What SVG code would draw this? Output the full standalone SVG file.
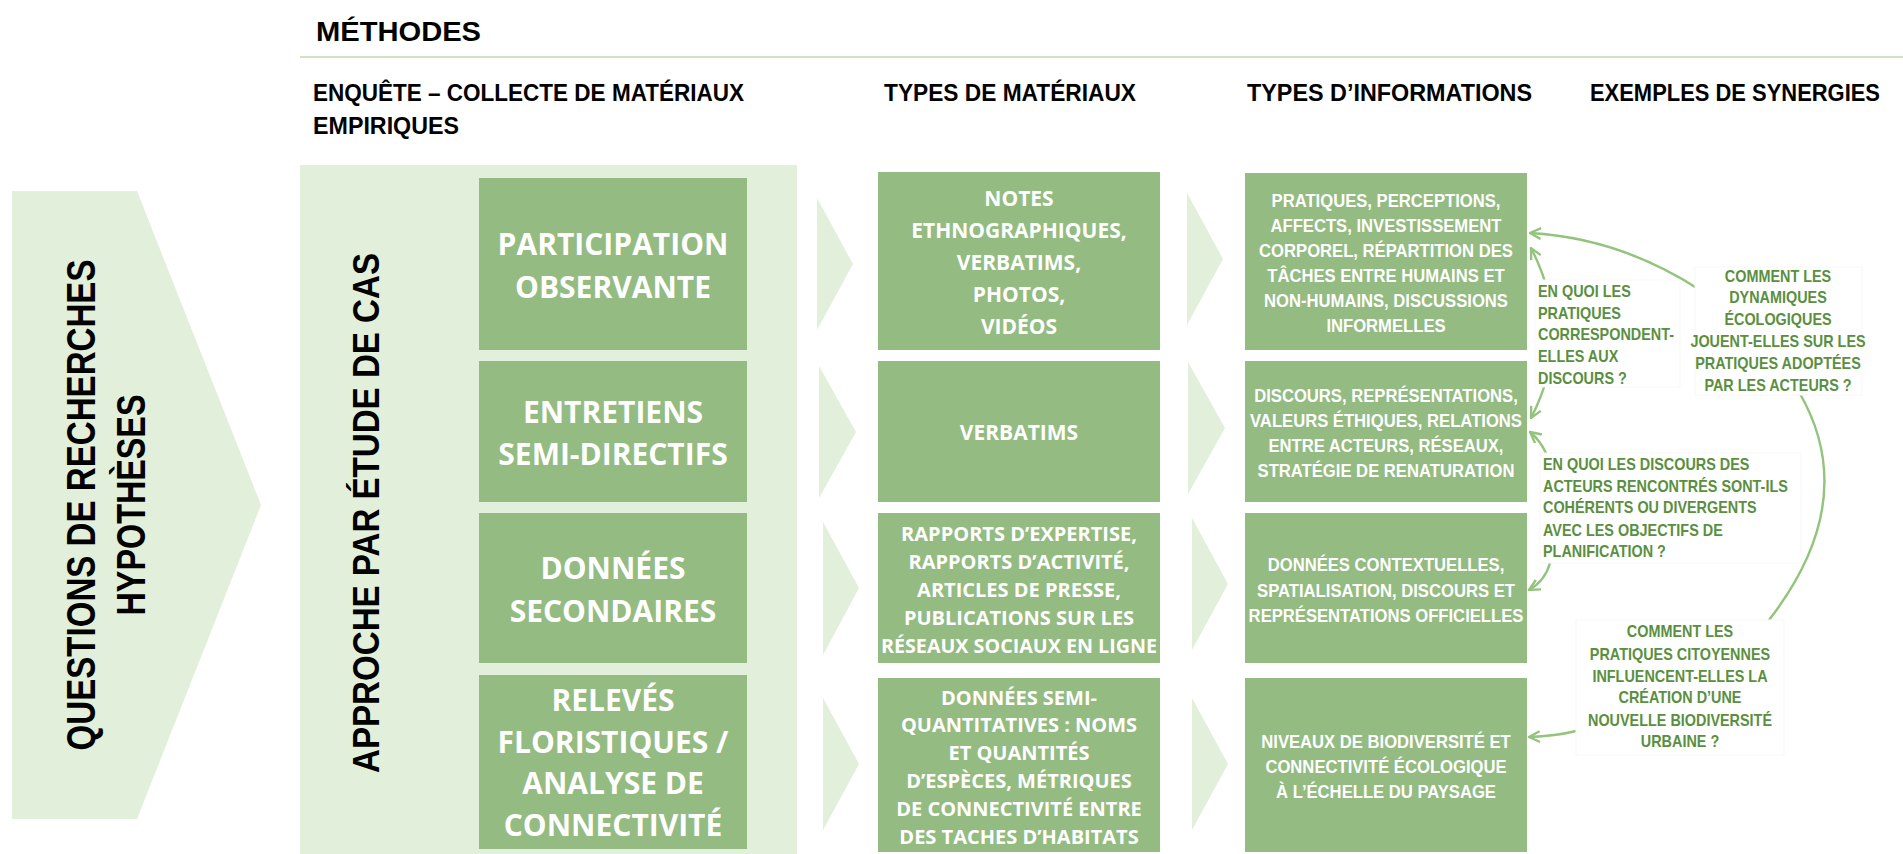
<svg xmlns="http://www.w3.org/2000/svg" width="1903" height="854" viewBox="0 0 1903 854">
<style>
.hd{font-family:"Liberation Sans",Arial,sans-serif;font-weight:bold;fill:#000;}
.rot{font-family:"Liberation Sans",Arial,sans-serif;font-weight:bold;fill:#000;font-size:40px;text-anchor:middle;}
.bg{fill:#e2efda;}
.box{fill:#94bb81;}
.m1{font-family:"Open Sans","Liberation Sans",sans-serif;font-weight:bold;fill:#fff;font-size:30px;text-anchor:middle;}
.m2{font-family:"Open Sans","Liberation Sans",sans-serif;font-weight:bold;fill:#fff;font-size:21px;text-anchor:middle;}
.m3{font-family:"Open Sans","Liberation Sans",sans-serif;font-weight:bold;fill:#fff;font-size:20px;text-anchor:middle;}
.inf{font-family:"Liberation Sans",Arial,sans-serif;font-weight:bold;fill:#fff;font-size:18.5px;text-anchor:middle;}
.ann{font-family:"Liberation Sans",Arial,sans-serif;font-weight:bold;fill:#5b8f40;font-size:16px;}
.annbox{fill:#fff;stroke:#f7f7f7;stroke-width:1;}
.con{fill:none;stroke:#93c47d;stroke-width:2.4;}
</style>
<defs>
<marker id="ah" viewBox="0 0 12 12" refX="11" refY="6" markerWidth="13" markerHeight="13" markerUnits="userSpaceOnUse" orient="auto-start-reverse">
<path d="M1,1 L11,6 L1,11" fill="none" stroke="#93c47d" stroke-width="2.2" stroke-linejoin="miter"/>
</marker>
</defs>
<rect width="1903" height="854" fill="#fff"/>

<g id="headers">
<text class="hd" x="316" y="41" font-size="28" textLength="165" lengthAdjust="spacingAndGlyphs">MÉTHODES</text>
<line x1="300" y1="57" x2="1903" y2="57" stroke="#cfe4c4" stroke-width="2"/>
<text class="hd" x="313" y="101" font-size="23" textLength="431" lengthAdjust="spacingAndGlyphs">ENQUÊTE – COLLECTE DE MATÉRIAUX</text>
<text class="hd" x="313" y="134" font-size="23" textLength="146" lengthAdjust="spacingAndGlyphs">EMPIRIQUES</text>
<text class="hd" x="884" y="101" font-size="23" textLength="252" lengthAdjust="spacingAndGlyphs">TYPES DE MATÉRIAUX</text>
<text class="hd" x="1247" y="101" font-size="23" textLength="285" lengthAdjust="spacingAndGlyphs">TYPES D’INFORMATIONS</text>
<text class="hd" x="1590" y="101" font-size="23" textLength="290" lengthAdjust="spacingAndGlyphs">EXEMPLES DE SYNERGIES</text>
</g>

<g id="questions">
<polygon class="bg" points="12,191 137,191 261,505 137,819 12,819"/>
<text class="rot" transform="translate(95,505) rotate(-90)" textLength="491" lengthAdjust="spacingAndGlyphs">QUESTIONS DE RECHERCHES</text>
<text class="rot" transform="translate(145,505) rotate(-90)" textLength="221" lengthAdjust="spacingAndGlyphs">HYPOTHÈSES</text>
</g>

<g id="approche">
<rect class="bg" x="300" y="165" width="497" height="689"/>
<text class="rot" transform="translate(379,513) rotate(-90)" textLength="520" lengthAdjust="spacingAndGlyphs" style="font-size:36px">APPROCHE PAR ÉTUDE DE CAS</text>
</g>

<g id="methode-participation">
<rect class="box" x="479" y="178" width="268" height="172"/>
<text class="m1" x="613" y="255">PARTICIPATION</text>
<text class="m1" x="613" y="298">OBSERVANTE</text>
</g>
<g id="methode-entretiens">
<rect class="box" x="479" y="361" width="268" height="141"/>
<text class="m1" x="613" y="423">ENTRETIENS</text>
<text class="m1" x="613" y="465">SEMI-DIRECTIFS</text>
</g>
<g id="methode-donnees">
<rect class="box" x="479" y="513" width="268" height="150"/>
<text class="m1" x="613" y="579">DONNÉES</text>
<text class="m1" x="613" y="622">SECONDAIRES</text>
</g>
<g id="methode-releves">
<rect class="box" x="479" y="675" width="268" height="174"/>
<text class="m1" x="613" y="711">RELEVÉS</text>
<text class="m1" x="613" y="753">FLORISTIQUES /</text>
<text class="m1" x="613" y="794">ANALYSE DE</text>
<text class="m1" x="613" y="836">CONNECTIVITÉ</text>
</g>

<g id="fleches-1">
<polygon class="bg" points="817,198 853,264 817,330"/>
<polygon class="bg" points="819,366 856,432 819,498"/>
<polygon class="bg" points="823,522 859,588 823,655"/>
<polygon class="bg" points="823,698 859,764 823,830"/>
</g>

<g id="materiaux-1">
<rect class="box" x="878" y="172" width="282" height="178"/>
<text class="m2" x="1019" y="206">NOTES</text>
<text class="m2" x="1019" y="238">ETHNOGRAPHIQUES,</text>
<text class="m2" x="1019" y="270">VERBATIMS,</text>
<text class="m2" x="1019" y="302">PHOTOS,</text>
<text class="m2" x="1019" y="334">VIDÉOS</text>
</g>
<g id="materiaux-2">
<rect class="box" x="878" y="361" width="282" height="141"/>
<text class="m2" x="1019" y="440">VERBATIMS</text>
</g>
<g id="materiaux-3">
<rect class="box" x="878" y="513" width="282" height="150"/>
<text class="m3" x="1019" y="541">RAPPORTS D’EXPERTISE,</text>
<text class="m3" x="1019" y="569">RAPPORTS D’ACTIVITÉ,</text>
<text class="m3" x="1019" y="597">ARTICLES DE PRESSE,</text>
<text class="m3" x="1019" y="625">PUBLICATIONS SUR LES</text>
<text class="m3" x="1019" y="653" textLength="276" lengthAdjust="spacingAndGlyphs">RÉSEAUX SOCIAUX EN LIGNE</text>
</g>
<g id="materiaux-4">
<rect class="box" x="878" y="678" width="282" height="174"/>
<text class="m3" x="1019" y="705">DONNÉES SEMI-</text>
<text class="m3" x="1019" y="732">QUANTITATIVES : NOMS</text>
<text class="m3" x="1019" y="760">ET QUANTITÉS</text>
<text class="m3" x="1019" y="788">D’ESPÈCES, MÉTRIQUES</text>
<text class="m3" x="1019" y="816">DE CONNECTIVITÉ ENTRE</text>
<text class="m3" x="1019" y="844">DES TACHES D’HABITATS</text>
</g>

<g id="fleches-2">
<polygon class="bg" points="1187,193 1223,259 1187,325"/>
<polygon class="bg" points="1188,362 1225,428 1188,494"/>
<polygon class="bg" points="1192,518 1228,584 1192,650"/>
<polygon class="bg" points="1192,698 1228,764 1192,830"/>
</g>

<g id="info-1">
<rect class="box" x="1245" y="173" width="282" height="177"/>
<g transform="translate(1386,0) scale(0.9,1) translate(-1386,0)">
<text class="inf" x="1386" y="207">PRATIQUES, PERCEPTIONS,</text>
<text class="inf" x="1386" y="232">AFFECTS, INVESTISSEMENT</text>
<text class="inf" x="1386" y="257">CORPOREL, RÉPARTITION DES</text>
<text class="inf" x="1386" y="282">TÂCHES ENTRE HUMAINS ET</text>
<text class="inf" x="1386" y="307">NON-HUMAINS, DISCUSSIONS</text>
<text class="inf" x="1386" y="332">INFORMELLES</text>
</g>
</g>
<g id="info-2">
<rect class="box" x="1245" y="361" width="282" height="141"/>
<g transform="translate(1386,0) scale(0.9,1) translate(-1386,0)">
<text class="inf" x="1386" y="402">DISCOURS, REPRÉSENTATIONS,</text>
<text class="inf" x="1386" y="427">VALEURS ÉTHIQUES, RELATIONS</text>
<text class="inf" x="1386" y="452">ENTRE ACTEURS, RÉSEAUX,</text>
<text class="inf" x="1386" y="477">STRATÉGIE DE RENATURATION</text>
</g>
</g>
<g id="info-3">
<rect class="box" x="1245" y="513" width="282" height="150"/>
<g transform="translate(1386,0) scale(0.9,1) translate(-1386,0)">
<text class="inf" x="1386" y="571">DONNÉES CONTEXTUELLES,</text>
<text class="inf" x="1386" y="597">SPATIALISATION, DISCOURS ET</text>
<text class="inf" x="1386" y="622">REPRÉSENTATIONS OFFICIELLES</text>
</g>
</g>
<g id="info-4">
<rect class="box" x="1245" y="678" width="282" height="174"/>
<g transform="translate(1386,0) scale(0.9,1) translate(-1386,0)">
<text class="inf" x="1386" y="748">NIVEAUX DE BIODIVERSITÉ ET</text>
<text class="inf" x="1386" y="773">CONNECTIVITÉ ÉCOLOGIQUE</text>
<text class="inf" x="1386" y="798">À L’ÉCHELLE DU PAYSAGE</text>
</g>
</g>

<g id="connecteurs">
<path class="con" d="M1700,290 Q1620,238 1530,233" marker-end="url(#ah)"/>
<path class="con" d="M1531,248 Q1575,333 1531,418" marker-start="url(#ah)" marker-end="url(#ah)"/>
<path class="con" d="M1547,455 Q1540,440 1530,432" marker-end="url(#ah)"/>
<path class="con" d="M1550,563 Q1545,581 1529,590" marker-end="url(#ah)"/>
<path class="con" d="M1576,731 Q1556,736 1529,737" marker-end="url(#ah)"/>
<path class="con" d="M1799,392 Q1862,500 1769,620"/>
</g>

<g id="synergie-1">
<rect class="annbox" x="1535" y="280" width="145" height="107"/>
<g transform="translate(1538,0) scale(0.9,1) translate(-1538,0)">
<text class="ann" x="1538" y="297">EN QUOI LES</text>
<text class="ann" x="1538" y="319">PRATIQUES</text>
<text class="ann" x="1538" y="340">CORRESPONDENT-</text>
<text class="ann" x="1538" y="362">ELLES AUX</text>
<text class="ann" x="1538" y="384">DISCOURS ?</text>
</g>
</g>
<g id="synergie-2">
<rect class="annbox" x="1695" y="267" width="167" height="128"/>
<g text-anchor="middle" transform="translate(1778,0) scale(0.9,1) translate(-1778,0)">
<text class="ann" x="1778" y="282">COMMENT LES</text>
<text class="ann" x="1778" y="303">DYNAMIQUES</text>
<text class="ann" x="1778" y="325">ÉCOLOGIQUES</text>
<text class="ann" x="1778" y="347">JOUENT-ELLES SUR LES</text>
<text class="ann" x="1778" y="369">PRATIQUES ADOPTÉES</text>
<text class="ann" x="1778" y="391">PAR LES ACTEURS ?</text>
</g>
</g>
<g id="synergie-3">
<rect class="annbox" x="1540" y="453" width="261" height="110"/>
<g transform="translate(1543,0) scale(0.9,1) translate(-1543,0)">
<text class="ann" x="1543" y="470">EN QUOI LES DISCOURS DES</text>
<text class="ann" x="1543" y="492">ACTEURS RENCONTRÉS SONT-ILS</text>
<text class="ann" x="1543" y="513">COHÉRENTS OU DIVERGENTS</text>
<text class="ann" x="1543" y="536">AVEC LES OBJECTIFS DE</text>
<text class="ann" x="1543" y="557">PLANIFICATION ?</text>
</g>
</g>
<g id="synergie-4">
<rect class="annbox" x="1576" y="620" width="208" height="135"/>
<g text-anchor="middle" transform="translate(1680,0) scale(0.9,1) translate(-1680,0)">
<text class="ann" x="1680" y="637">COMMENT LES</text>
<text class="ann" x="1680" y="660">PRATIQUES CITOYENNES</text>
<text class="ann" x="1680" y="682">INFLUENCENT-ELLES LA</text>
<text class="ann" x="1680" y="703">CRÉATION D’UNE</text>
<text class="ann" x="1680" y="726">NOUVELLE BIODIVERSITÉ</text>
<text class="ann" x="1680" y="747">URBAINE ?</text>
</g>
</g>
</svg>
